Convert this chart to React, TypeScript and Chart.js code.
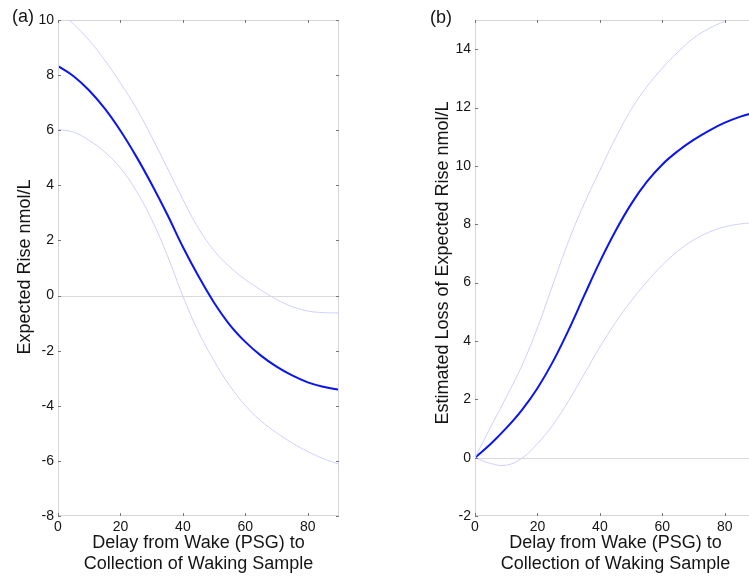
import React, { useEffect, useRef } from "react";
import { Chart, registerables } from "chart.js";
Chart.register(...registerables);

const FONT = '"Liberation Sans", Arial, Helvetica, sans-serif';

// Shared x grid (delay in minutes)
const delayValues = [0, 5, 10, 15, 20, 25, 30, 35, 40, 45, 50, 55, 60, 65, 70, 75, 80, 85, 90];
const xTickValues = [0, 20, 40, 60, 80];

// Panel (a): expected rise
const aMean = [8.33, 7.96, 7.44, 6.78, 5.98, 5.06, 4.04, 2.94, 1.76, 0.7, -0.26, -1.06, -1.68, -2.18, -2.58, -2.9, -3.15, -3.31, -3.42];
const aUpper = [10.35, 9.85, 9.26, 8.54, 7.71, 6.82, 5.76, 4.63, 3.49, 2.44, 1.63, 1.04, 0.58, 0.2, -0.14, -0.4, -0.56, -0.62, -0.63];
const aLower = [6.03, 5.93, 5.63, 5.21, 4.63, 3.81, 2.76, 1.46, -0.02, -1.32, -2.37, -3.27, -3.99, -4.55, -4.98, -5.35, -5.66, -5.92, -6.12];
const aYTicks = [-8, -6, -4, -2, 0, 2, 4, 6, 8, 10];

// Panel (b): estimated loss of expected rise
const bMean = [0, 0.47, 1.01, 1.63, 2.38, 3.3, 4.38, 5.56, 6.72, 7.77, 8.69, 9.45, 10.05, 10.51, 10.89, 11.21, 11.48, 11.69, 11.84];
const bUpper = [0, 1.05, 2.07, 3.15, 4.45, 5.95, 7.43, 8.71, 9.85, 10.95, 11.93, 12.71, 13.35, 13.9, 14.38, 14.71, 14.96, 15.16, 15.31];
const bLower = [0, -0.2, -0.26, -0.02, 0.48, 1.13, 1.95, 2.87, 3.79, 4.63, 5.37, 6.02, 6.6, 7.08, 7.46, 7.73, 7.91, 8.01, 8.06];
const bYTicks = [-2, 0, 2, 4, 6, 8, 10, 12, 14];

const xTitleLines = ["Delay from Wake (PSG) to", "Collection of Waking Sample"];

const toPoints = (ys: number[]) => ys.map((y, i) => ({ x: delayValues[i], y }));

const decor = {
  id: "decor",
  beforeDatasetsDraw(chart: any) {
    const { ctx, chartArea, scales } = chart;
    const { left, right } = chartArea;
    const y0 = Math.round(scales.y.getPixelForValue(0)) + 0.5;
    ctx.save();
    ctx.strokeStyle = "#dadada";
    ctx.lineWidth = 1;
    ctx.beginPath();
    ctx.moveTo(left, y0);
    ctx.lineTo(right, y0);
    ctx.stroke();
    ctx.restore();
  },
  afterDatasetsDraw(chart: any, _a: any, opts: any) {
    const { ctx, chartArea, scales } = chart;
    const { left, right, top, bottom } = chartArea;
    ctx.save();
    ctx.strokeStyle = "#d6d6d6";
    ctx.lineWidth = 1;
    ctx.strokeRect(Math.round(left) + 0.5, Math.round(top) + 0.5, Math.round(right - left) - 1, Math.round(bottom - top) - 1);
    ctx.strokeStyle = "#777";
    const tl = 3;
    ctx.beginPath();
    for (const v of opts.xTicks) {
      const px = Math.round(scales.x.getPixelForValue(v)) + 0.5;
      ctx.moveTo(px, bottom);
      ctx.lineTo(px, bottom - tl);
      ctx.moveTo(px, top);
      ctx.lineTo(px, top + tl);
    }
    for (const v of opts.yTicks) {
      const py = Math.round(scales.y.getPixelForValue(v)) + 0.5;
      ctx.moveTo(left, py);
      ctx.lineTo(left + tl, py);
      ctx.moveTo(right, py);
      ctx.lineTo(right - tl, py);
    }
    ctx.stroke();
    ctx.restore();
  },
  afterDraw(chart: any, _a: any, opts: any) {
    const { ctx, chartArea } = chart;
    ctx.save();
    ctx.fillStyle = "#151515";
    ctx.font = `18px ${FONT}`;
    ctx.textAlign = "center";
    ctx.textBaseline = "middle";
    ctx.fillText(opts.label, opts.labelX, opts.labelY);
    const cx = (chartArea.left + chartArea.right) / 2;
    ctx.fillText(opts.xTitle[0], cx, 543);
    ctx.fillText(opts.xTitle[1], cx, 564);
    ctx.translate(opts.yTitleX, opts.yTitleY);
    ctx.rotate(-Math.PI / 2);
    ctx.fillText(opts.yTitle, 0, 0);
    ctx.restore();
  },
};

type Panel = {
  mean: number[];
  upper: number[];
  lower: number[];
  yMin: number;
  yMax: number;
  yTicks: number[];
  yAxisWidth: number;
  padRight: number;
  label: string;
  labelX: number;
  labelY: number;
  yTitle: string;
  yTitleX: number;
  yTitleY: number;
};

function buildChart(canvas: HTMLCanvasElement, p: Panel) {
  const ciColor = "#cfcfff";
  const common = { pointRadius: 0, tension: 0.4, fill: false };
  return new Chart(canvas, {
    type: "line",
    data: {
      datasets: [
        { data: toPoints(p.upper), borderColor: ciColor, borderWidth: 1, ...common },
        { data: toPoints(p.lower), borderColor: ciColor, borderWidth: 1, ...common },
        { data: toPoints(p.mean), borderColor: "#0a14f0", borderWidth: 2, ...common },
      ],
    },
    options: {
      animation: false,
      responsive: false,
      devicePixelRatio: 1,
      layout: { padding: { left: 0, top: 20, right: p.padRight, bottom: 0 } },
      plugins: {
        legend: { display: false },
        tooltip: { enabled: false },
        decor: {
          xTicks: xTickValues,
          yTicks: p.yTicks,
          label: p.label,
          labelX: p.labelX,
          labelY: p.labelY,
          yTitle: p.yTitle,
          yTitleX: p.yTitleX,
          yTitleY: p.yTitleY,
          xTitle: xTitleLines,
        },
      } as any,
      scales: {
        x: {
          type: "linear",
          min: 0,
          max: 90,
          grid: { display: false, drawTicks: false },
          border: { display: false },
          ticks: { color: "#151515", font: { family: FONT, size: 14 }, padding: 3, maxRotation: 0 },
          afterBuildTicks: (s: any) => {
            s.ticks = xTickValues.map((v) => ({ value: v }));
          },
          afterFit: (s: any) => {
            s.height = 65;
          },
        },
        y: {
          type: "linear",
          min: p.yMin,
          max: p.yMax,
          grid: { display: false, drawTicks: false },
          border: { display: false },
          ticks: { color: "#151515", font: { family: FONT, size: 14 }, padding: 4 },
          afterBuildTicks: (s: any) => {
            s.ticks = p.yTicks.map((v) => ({ value: v }));
          },
          afterFit: (s: any) => {
            s.width = p.yAxisWidth;
          },
        },
      },
    },
    plugins: [decor as any],
  });
}

export default function App() {
  const refA = useRef<HTMLCanvasElement>(null);
  const refB = useRef<HTMLCanvasElement>(null);

  useEffect(() => {
    const a = buildChart(refA.current!, {
      mean: aMean,
      upper: aUpper,
      lower: aLower,
      yMin: -8,
      yMax: 10,
      yTicks: aYTicks,
      yAxisWidth: 58,
      padRight: 31,
      label: "(a)",
      labelX: 23,
      labelY: 17,
      yTitle: "Expected Rise nmol/L",
      yTitleX: 25,
      yTitleY: 267,
    });
    const b = buildChart(refB.current!, {
      mean: bMean,
      upper: bUpper,
      lower: bLower,
      yMin: -2,
      yMax: 15,
      yTicks: bYTicks,
      yAxisWidth: 75,
      padRight: 14,
      label: "(b)",
      labelX: 41,
      labelY: 18,
      yTitle: "Estimated Loss of Expected Rise nmol/L",
      yTitleX: 43,
      yTitleY: 263,
    });
    return () => {
      a.destroy();
      b.destroy();
    };
  }, []);

  return (
    <div style={{ position: "fixed", left: 0, top: 0, width: 749, height: 581, overflow: "hidden", background: "#fff" }}>
      <canvas ref={refA} width={370} height={581} style={{ position: "absolute", left: 0, top: 0, width: 370, height: 581 }} />
      <canvas ref={refB} width={370} height={581} style={{ position: "absolute", left: 400, top: 0, width: 370, height: 581 }} />
    </div>
  );
}
